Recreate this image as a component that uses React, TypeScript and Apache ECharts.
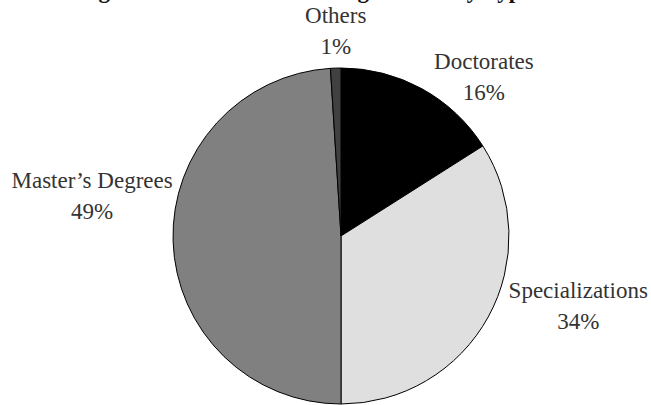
import React, { useEffect, useRef } from "react";
import * as echarts from "echarts";

// Programme types and their share of the total (%), clockwise from 12 o'clock
const categories = ["Doctorates", "Specializations", "Master’s Degrees", "Others"];
const shares = [16, 34, 49, 1];

const TITLE = "Figure 1. Distribution of Programmes by Type";

// Slice fills, in the same order as the categories
const sliceColors = ["#000000", "#dfdfdf", "#808080", "#404040"];

// Label centre relative to the point where each slice's mid-angle meets the rim
const labelOffsets: [number, number][] = [
  [62, -12],
  [90, -11],
  [-81, -45],
  [0, -37],
];

const FONT = "'Liberation Serif', 'Times New Roman', serif";

export default function App() {
  const ref = useRef<HTMLDivElement>(null);

  useEffect(() => {
    document.body.style.margin = "0";
    if (!ref.current) return;
    const chart = echarts.init(ref.current, undefined, { renderer: "svg" });

    const data = categories.map((name, i) => ({
      name,
      value: shares[i],
      itemStyle: { color: sliceColors[i] },
    }));

    chart.setOption({
      animation: false,
      backgroundColor: "#ffffff",
      title: {
        text: TITLE,
        left: 78,
        top: -23,
        padding: 0,
        textStyle: {
          fontFamily: FONT,
          fontSize: 23,
          fontWeight: "bold",
          color: "#111111",
          lineHeight: 26,
        },
      },
      series: [
        {
          type: "pie",
          center: [341, 236],
          radius: 168,
          startAngle: 90,
          clockwise: true,
          avoidLabelOverlap: false,
          silent: true,
          data,
          itemStyle: { borderColor: "#000000", borderWidth: 1 },
          emphasis: { disabled: true },
          label: {
            show: true,
            position: "outside",
            formatter: "{b}\n{c}%",
            fontFamily: FONT,
            fontSize: 23,
            lineHeight: 31,
            color: "#333333",
            bleedMargin: 0,
            distanceToLabelLine: 5,
          },
          labelLine: { show: false, length: 0, length2: 0 },
          labelLayout: (params: any) => {
            const r = params.labelRect;
            const off = labelOffsets[params.dataIndex] || [0, 0];
            const onRight = params.align === "left";
            const ax = onRight ? r.x - 5 : r.x + r.width + 5;
            const ay = r.y + r.height / 2;
            return {
              x: ax + off[0],
              y: ay + off[1],
              align: "center",
              verticalAlign: "middle",
            };
          },
        },
      ],
    });

    return () => chart.dispose();
  }, []);

  return <div ref={ref} style={{ width: 651, height: 405 }} />;
}
